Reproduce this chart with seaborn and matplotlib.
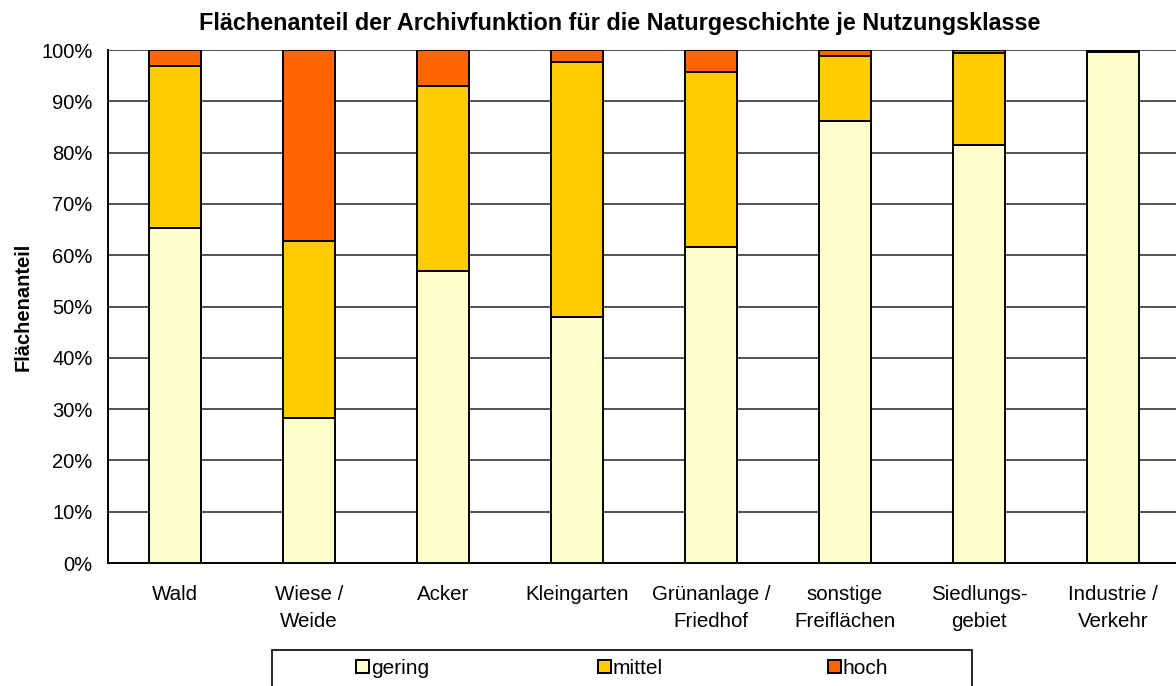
import numpy as np
import pandas as pd
import matplotlib
matplotlib.use("Agg")
import matplotlib.pyplot as plt
import seaborn as sns
from matplotlib.patches import Patch, Rectangle
from matplotlib.ticker import FixedLocator, PercentFormatter

klassen = ["Wald", "Wiese /\nWeide", "Acker", "Kleingarten", "Grünanlage /\nFriedhof",
           "sonstige\nFreiflächen", "Siedlungs-\ngebiet", "Industrie /\nVerkehr"]
gering = [65.4, 28.3, 57.0, 48.0, 61.6, 86.2, 81.5, 99.7]
mittel = [31.4, 34.5, 35.9, 49.7, 34.1, 12.6, 18.0, 0.2]
hoch = [3.2, 37.2, 7.1, 2.3, 4.3, 1.2, 0.5, 0.1]

stufen = ["gering", "mittel", "hoch"]
farben = ["#FFFFCC", "#FFCC00", "#FF6600"]

df = pd.DataFrame({"klasse": klassen, "gering": gering, "mittel": mittel, "hoch": hoch})

sns.set_style("white")
plt.rcParams["font.family"] = ["Liberation Sans", "DejaVu Sans"]
plt.rcParams["text.color"] = "black"
plt.rcParams["xtick.color"] = "black"
plt.rcParams["ytick.color"] = "black"
plt.rcParams["axes.labelcolor"] = "black"

fig = plt.figure(figsize=(11.76, 6.86), dpi=100)
ax = fig.add_axes([0.0918, 0.1793, 0.9116, 0.7478])

unten = np.zeros(len(klassen))
for stufe, farbe in zip(stufen, farben):
    sns.barplot(data=df, x="klasse", y=stufe, color=farbe, bottom=unten, width=0.39,
                edgecolor="black", linewidth=1.4, saturation=1, ax=ax, zorder=3)
    unten = unten + df[stufe].values

ax.set_ylim(0, 100)
ax.set_xlim(-0.5, len(klassen) - 0.5)
ax.yaxis.set_major_locator(FixedLocator(np.arange(0, 101, 10)))
ax.yaxis.set_major_formatter(PercentFormatter(decimals=0))
ax.grid(axis="y", color="#333333", linewidth=1.2, zorder=0)
ax.set_axisbelow(True)

ax.set_xticks(np.arange(len(klassen)))
ax.set_xticklabels(klassen, linespacing=1.55)
ax.set_xticks(np.arange(len(klassen) + 1) - 0.5, minor=True)
ax.tick_params(axis="x", which="major", length=0, pad=16, labelsize=14.8)
ax.tick_params(axis="x", which="minor", length=6, width=1.2, direction="out", color="black")
ax.tick_params(axis="y", length=6, width=1.2, direction="out", color="black", labelsize=14.5, pad=5)

for s in ["top", "right"]:
    ax.spines[s].set_visible(False)
for s in ["left", "bottom"]:
    ax.spines[s].set_color("black")
    ax.spines[s].set_linewidth(1.4)

ax.set_xlabel("")
ax.set_ylabel("Flächenanteil", fontsize=14.5, fontweight="bold", labelpad=6)
fig.suptitle("Flächenanteil der Archivfunktion für die Naturgeschichte je Nutzungsklasse",
             x=0.527, y=0.966, va="center", fontsize=16.8, fontweight="bold")

# Legendenrahmen (unten abgeschnitten wie im Original)
fig.patches.append(Rectangle((272 / 1176, -0.02), 700 / 1176, (686 - 650) / 686 + 0.02,
                             transform=fig.transFigure, facecolor="white",
                             edgecolor="black", linewidth=1.2, zorder=5))
positionen = [356, 598, 828]
for stufe, farbe, px in zip(stufen, farben, positionen):
    griff = Patch(facecolor=farbe, edgecolor="black", linewidth=1.4, label=stufe)
    leg = fig.legend(handles=[griff], loc="center left", bbox_to_anchor=(px / 1176, 1 - 668 / 686),
                     fontsize=15, handlelength=0.6, handleheight=0.6, handletextpad=0.12,
                     frameon=False, borderpad=0, borderaxespad=0)
    leg.set_zorder(6)

fig.savefig("out.png", dpi=100)
